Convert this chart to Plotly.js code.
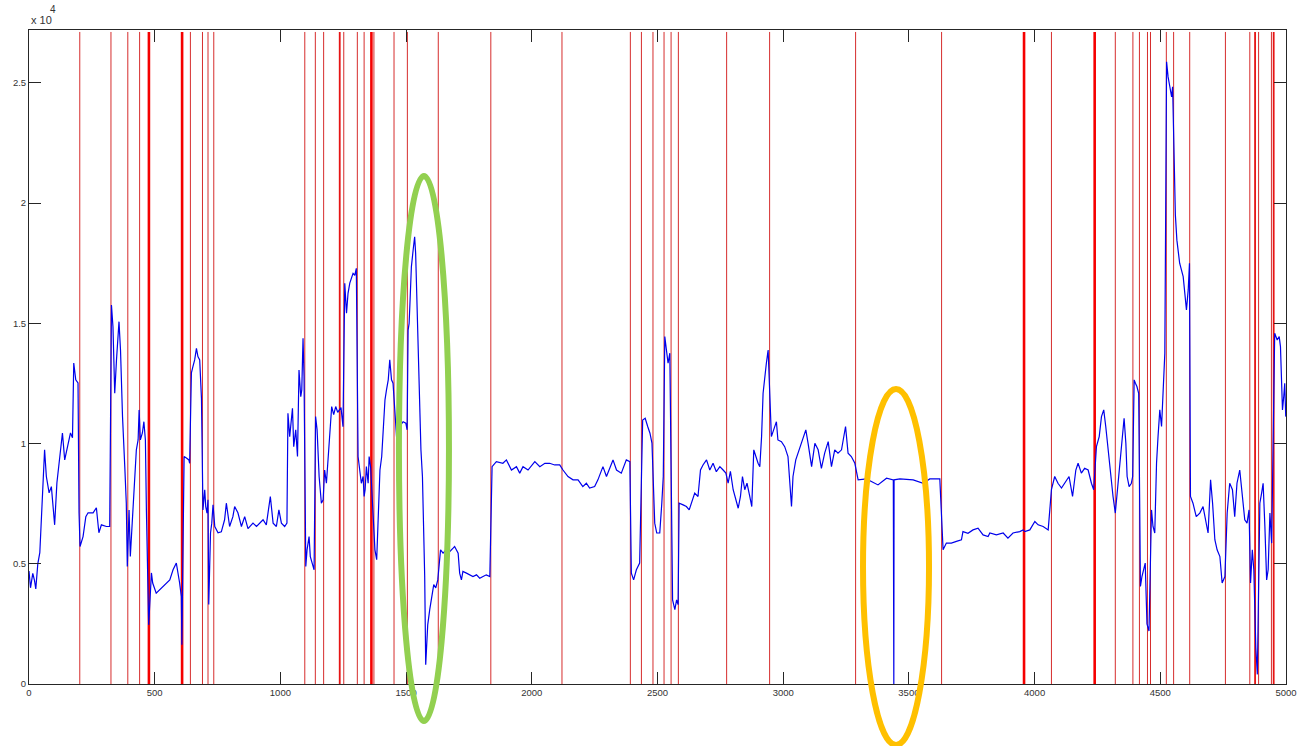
<!DOCTYPE html>
<html>
<head>
<meta charset="utf-8">
<script src="https://cdn.plot.ly/plotly-3.0.1.min.js"></script>
<style>
html, body { margin: 0; padding: 0; background: #ffffff; }
#chart { width: 1297px; height: 746px; }
</style>
</head>
<body>
<div id="chart"></div>
<script>
// ---- data ----
const sampleIndex = [
  0, 6, 15, 22, 27, 35, 43, 56, 62, 69, 80, 89, 95, 102, 111, 122, 133, 142, 155, 165, 173, 178, 186, 195, 199,
  203, 215, 226, 235, 255, 268, 278, 288, 308, 321,
  328, 334, 341, 348, 358, 364, 372, 381, 387, 391,
  398, 403, 411, 420, 427, 434, 438,
  443, 451, 457, 463, 467, 476,
  487, 492, 506, 519, 533, 546, 560, 573, 586, 599, 606, 608,
  617, 626, 636, 639,
  643, 646, 652, 659, 666, 672, 679, 683, 686,
  692, 699, 703, 708, 712,
  715, 722, 727, 732,
  739, 752, 765, 778, 785, 798, 811, 818, 831, 845, 858, 871, 891, 905, 918, 931, 944, 960, 971, 984, 994, 1004, 1017, 1026,
  1030, 1037, 1048, 1053, 1061, 1068, 1074, 1081, 1085, 1090, 1094,
  1097, 1101, 1106, 1114, 1119, 1127, 1134,
  1140, 1146, 1154, 1163, 1170,
  1176, 1183, 1189, 1196, 1204, 1212, 1220, 1228,
  1241, 1249,
  1254, 1256, 1263, 1269, 1276, 1283, 1289, 1296, 1302,
  1309, 1316, 1322, 1329, 1333,
  1337, 1342, 1349, 1353, 1359,
  1376, 1383, 1389, 1396, 1403, 1409, 1416, 1422, 1429, 1435, 1442, 1448,
  1462, 1475, 1488, 1499, 1504,
  1508, 1512, 1516, 1521, 1528, 1534, 1538, 1543, 1549, 1554, 1559, 1565, 1570, 1574, 1578, 1586, 1594, 1602, 1610, 1618, 1626,
  1637, 1647, 1660, 1674, 1687, 1693, 1707, 1713, 1720, 1726, 1740, 1753, 1766, 1780, 1793, 1806, 1819, 1833,
  1842, 1859, 1885, 1899, 1919, 1939, 1952, 1965, 1985, 2012, 2032, 2052, 2071, 2091, 2111,
  2124, 2144, 2164, 2184, 2203, 2217, 2230, 2250, 2263, 2283, 2297, 2323, 2337, 2356, 2376, 2390,
  2396, 2405, 2416, 2429,
  2441, 2451, 2461, 2470, 2478,
  2489, 2497, 2509, 2517, 2523,
  2529, 2536, 2542, 2549,
  2555, 2560, 2569, 2576, 2582,
  2586, 2602, 2615, 2626, 2635, 2648, 2661, 2671, 2681, 2695, 2708, 2721, 2734, 2748, 2761, 2772,
  2781, 2790, 2801, 2811, 2821, 2830, 2838, 2847, 2856, 2867, 2875, 2883, 2891, 2900, 2907, 2914, 2920, 2927, 2933, 2940,
  2953, 2962, 2973, 2979, 2993, 3006, 3019, 3033, 3039, 3050, 3059, 3073, 3090, 3099, 3113, 3126, 3139, 3152, 3165, 3179, 3192, 3205, 3218, 3232, 3248, 3258, 3271, 3285,
  3298, 3331, 3377, 3411, 3438, 3440, 3441, 3464, 3517, 3557, 3583, 3623,
  3636, 3649, 3669, 3689, 3709, 3715, 3735, 3755, 3775, 3795, 3815, 3822, 3848, 3875, 3894, 3914, 3941, 3954,
  3961, 3981, 4001, 4014, 4034, 4054,
  4067, 4080, 4093, 4107, 4120, 4137, 4151, 4164, 4173, 4186, 4199, 4213, 4226, 4235,
  4246, 4257, 4266, 4275, 4283, 4292, 4302, 4312, 4321,
  4332, 4342, 4350, 4356, 4363, 4368, 4376, 4385, 4390,
  4396, 4401, 4407, 4414,
  4421, 4427, 4434, 4440, 4447, 4455,
  4465, 4471, 4478, 4485, 4491, 4498, 4505, 4511, 4518,
  4525, 4531, 4538, 4545, 4549,
  4555, 4560, 4566, 4577, 4591, 4604, 4611, 4616,
  4620, 4630, 4643, 4657, 4670, 4681, 4690, 4700, 4708, 4717, 4726, 4737, 4746, 4757,
  4766, 4776, 4787, 4796, 4805, 4816, 4827, 4836, 4845, 4853,
  4859, 4866, 4872,
  4880, 4886,
  4896, 4903, 4909, 4916, 4923, 4929, 4936, 4943,
  4955, 4965, 4973, 4978, 4986, 4991, 4995, 4999
];
const amplitude = [
  4700, 4000, 4600, 4300, 3950, 5000, 5460, 8490, 9740, 8630, 7950, 8210, 7380, 6620, 8370, 9460, 10440, 9320, 10030, 10440, 10240, 13350, 12650, 12520, 7120,
  5720, 6130, 6960, 7120, 7120, 7330, 6290, 6620, 6550, 6550,
  15760, 14860, 12090, 13480, 15070, 13890, 11120, 9040, 7530, 4890,
  7240, 5300, 6960, 8490, 9740, 10150, 11400,
  10150, 10440, 10910, 10150, 7240, 2460,
  4620, 4200, 3780, 3920, 4060, 4200, 4330, 4750, 5030, 4210, 3630, 1630,
  9460, 9400, 9320, 9180,
  10860, 12940, 13200, 13480, 13960, 13620, 13480, 12230, 11890,
  7240, 8080, 7380, 7110, 7660,
  3310, 6280, 6690, 7450,
  6550, 6290, 6330, 6830, 7520, 6550, 6960, 7380, 7120, 6550, 6960, 6460, 6690, 6550, 6690, 6830, 6620, 7800, 6690, 6550, 7240, 6690, 6550, 6690,
  11260, 10290, 11470, 9870, 10570, 9460, 13060, 11950, 12230, 14380, 12780,
  8630, 4890, 5580, 6130, 5300, 5030, 4750,
  11120, 10570, 8630, 7520, 7660,
  8900, 8350, 9200, 10300, 11540, 11200, 11540, 11300,
  11500, 10700,
  13890, 16670, 15420, 16250, 16670, 16940, 17080, 17000, 17290,
  9460, 8900, 8350, 8630, 7800,
  8080, 9040, 8350, 9460, 9000,
  5580, 5170, 7110, 8900, 9460, 10850, 11820, 12230, 12650, 13480, 12650, 12510,
  10290, 10710, 10910, 10850, 10570,
  14720, 15000, 16000, 17350, 18050, 18600, 17900, 15970, 13200, 11260, 9740, 8630, 6280, 4470, 800, 2460, 3090, 3670, 4130, 4000, 4330,
  5580, 5440, 5580, 5510, 5650, 5720, 5440, 4610, 4330, 4680, 4610, 4540, 4470, 4540, 4400, 4470, 4540, 4470,
  9040, 9250, 9180, 9320, 8900, 9040, 8770, 9040, 8900, 9250, 9040, 9180, 9180, 9110, 9110,
  8900, 8630, 8490, 8490, 8210, 8350, 8150, 8210, 8490, 9040, 8630, 9320, 8900, 8770, 9320, 9250,
  4610, 4330, 4750, 5030,
  10980, 11050, 10710, 10430, 10020,
  6690, 6280, 6280, 7500, 8630,
  14450, 13890, 13340, 13760,
  8080, 3500, 3090, 3500, 3300,
  7520, 7450, 7380, 7240, 7520, 7940, 7800, 8900, 9110, 9320, 8900, 9180, 8830, 9040, 8900, 8770,
  8350, 8840, 8080, 7660, 7310, 7800, 8630, 8080, 8350, 7800, 7380, 9740, 9460, 9180, 9040, 10290, 12090, 12930, 13340, 13890,
  10290, 10570, 10910, 10150, 10080, 9870, 9460, 7380, 8630, 9320, 9600, 10010, 10570, 10010, 9040, 10010, 9740, 8970, 9600, 10080, 9040, 9740, 9600, 9740, 10710, 9600, 9460, 9180,
  8490, 8530, 8280, 8560, 8490, 0, 8490, 8530, 8490, 8350, 8530, 8530,
  5580, 5860, 5860, 5930, 6000, 6340, 6270, 6410, 6480, 6200, 6130, 6280, 6200, 6280, 6070, 6280, 6340, 6410,
  6340, 6410, 6760, 6620, 6550, 6410,
  8080, 8630, 8350, 8150, 8350, 8630, 7800, 8900, 9180, 8770, 8970, 8900, 8350, 8080,
  9870, 10290, 11120, 11400, 10710, 9740, 8630, 7800, 7110,
  8350, 9460, 10570, 11050, 10010, 8630, 8210, 8350, 8630,
  12650, 12510, 12370, 12090,
  4060, 4470, 4750, 5030, 2500, 2200,
  7240, 6550, 6280, 9180, 10290, 11400, 10710, 11950, 13760,
  25880, 25250, 24840, 24420, 24840,
  21440, 19500, 18460, 17500, 16940, 15560, 16390, 17500,
  7800, 7520, 6960, 7110, 7380, 6690, 6280, 8490, 7520, 6000, 5580, 5300, 4200, 4470,
  7110, 8350, 8080, 6960, 8350, 8900, 7800, 6830, 6690, 7240,
  4200, 5580, 4750,
  1500, 400,
  7520, 7940, 8350, 6550, 4330, 4750, 7110, 5860,
  14590, 14310, 14450, 14030, 11400, 11950, 12510, 11120
];
// segment boundaries (sample index of each vertical red marker)
const thinBreaks = [202, 326, 393, 440, 642, 690, 712, 735, 1097, 1139, 1172, 1252, 1306, 1333, 1372, 1452, 1505, 1628, 1837, 2120, 2392, 2436, 2482, 2526, 2554, 2583, 2775, 2946, 3288, 3630, 4067, 4321, 4391, 4417, 4449, 4461, 4524, 4553, 4617, 4759, 4856, 4891, 4942];
const mediumBreaks = [1236, 4877, 4951];
const strongBreaks = [477, 609, 1362, 3958, 4239];
const xTickValues = [0, 500, 1000, 1500, 2000, 2500, 3000, 3500, 4000, 4500, 5000];
const yTickValues = [0, 5000, 10000, 15000, 20000, 25000];
const yTickLabels = ['0', '0.5', '1', '1.5', '2', '2.5'];
const exponentBase = 'x 10';
const exponentPower = '4';

// ---- figure ----
const shapes = [];
function addBreaks(list, color, width) {
  list.forEach(b => shapes.push({
    type: 'line', xref: 'x', yref: 'paper', x0: b, x1: b, y0: 0, y1: 0.997,
    line: {color: color, width: width}, layer: 'below'
  }));
}
addBreaks(thinBreaks, 'rgb(214,45,45)', 1);
addBreaks(mediumBreaks, 'rgb(230,20,20)', 1.8);
addBreaks(strongBreaks, 'rgb(245,0,0)', 2.6);

// highlight ellipses (annotation overlays)
shapes.push({type: 'circle', xref: 'paper', yref: 'paper', x0: 0.2943, x1: 0.3341, y0: -0.0566, y1: 0.7768,
  line: {color: 'rgb(146,208,80)', width: 6}, layer: 'above'});
shapes.push({type: 'circle', xref: 'paper', yref: 'paper', x0: 0.6635, x1: 0.716, y0: -0.0933, y1: 0.4511,
  line: {color: 'rgb(255,192,0)', width: 6}, layer: 'above'});

const tickFont = {family: 'Liberation Sans, Arial, sans-serif', size: 9.5, color: '#333333'};
const axisCommon = {
  ticks: 'inside', ticklen: 12, tickwidth: 1, tickcolor: '#262626',
  showline: true, linecolor: '#262626', linewidth: 1, mirror: 'ticks',
  showgrid: false, zeroline: false, ticklabeloverflow: 'allow',
  tickfont: tickFont
};

const trace = {
  type: 'scatter', mode: 'lines',
  x: sampleIndex, y: amplitude,
  line: {color: 'rgb(0,0,235)', width: 1.2},
  hoverinfo: 'x+y'
};

const layout = {
  width: 1297, height: 746,
  margin: {l: 29, r: 11, t: 30, b: 62, pad: 0},
  paper_bgcolor: '#ffffff', plot_bgcolor: '#ffffff',
  showlegend: false,
  xaxis: Object.assign({}, axisCommon, {range: [0, 5000], tickmode: 'array', tickvals: xTickValues}),
  yaxis: Object.assign({}, axisCommon, {range: [0, 27200], tickmode: 'array', tickvals: yTickValues, ticktext: yTickLabels}),
  shapes: shapes,
  annotations: [
    {xref: 'paper', yref: 'paper', x: 0, y: 1.003, xanchor: 'left', yanchor: 'bottom',
     text: exponentBase, showarrow: false, font: {family: 'Liberation Sans, Arial, sans-serif', size: 11, color: '#333333'}},
    {xref: 'paper', yref: 'paper', x: 0.0155, y: 1.02, xanchor: 'left', yanchor: 'bottom',
     text: exponentPower, showarrow: false, font: {family: 'Liberation Sans, Arial, sans-serif', size: 10, color: '#333333'}}
  ]
};

Plotly.newPlot('chart', [trace], layout, {displayModeBar: false, responsive: false});
</script>
</body>
</html>
